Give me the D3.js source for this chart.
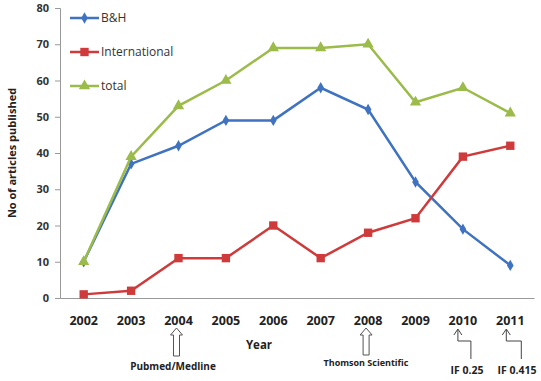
<!DOCTYPE html>
<html>
<head>
<meta charset="utf-8">
<script src="https://cdn.jsdelivr.net/npm/d3@7"></script>
<style>
body { margin: 0; background: #fff; }
text { font-family: "Open Sans", "DejaVu Sans", sans-serif; }
</style>
</head>
<body>
<svg id="chart" width="541" height="381"></svg>
<script>
var years = ["2002","2003","2004","2005","2006","2007","2008","2009","2010","2011"];
var bh = [10, 37, 42, 49, 49, 58, 52, 32, 19, 9];
var intl = [1, 2, 11, 11, 20, 11, 18, 22, 39, 42];
var total = [10, 39, 53, 60, 69, 69, 70, 54, 58, 51];
var yTicks = [0, 10, 20, 30, 40, 50, 60, 70, 80];

var series = [
    {name: "B&H", values: bh, color: "#3f72c0", symbol: d3.symbolDiamond, size: 38},
    {name: "International", values: intl, color: "#cf3a3a", symbol: d3.symbolSquare, size: 70},
    {name: "total", values: total, color: "#9bbb4a", symbol: d3.symbolTriangle, size: 55}
];

var svg = d3.select("#chart");

var x = d3.scaleBand().domain(years).range([60, 534]);
var y = d3.scaleLinear().domain([0, 80]).range([298, 8]);
var cx = function(i) { return x(years[i]) + x.bandwidth() / 2; };

// axes
var yAxis = svg.append("g")
    .attr("transform", "translate(60,0)")
    .call(d3.axisLeft(y).tickValues(yTicks).tickSize(5).tickPadding(6));
yAxis.select(".domain").attr("stroke", "#999");
yAxis.selectAll(".tick line").attr("stroke", "#999");
yAxis.selectAll("text").attr("fill", "#333").style("font-size", "11px").style("font-weight", "bold");

var xAxis = svg.append("g")
    .attr("transform", "translate(0,298)")
    .call(d3.axisBottom(x).tickSize(0).tickPadding(18));
xAxis.select(".domain").attr("stroke", "#999");
xAxis.selectAll("text").attr("fill", "#222").style("font-size", "12.5px").style("font-weight", "bold");

svg.append("text")
    .attr("x", 259).attr("y", 349)
    .attr("text-anchor", "middle")
    .attr("fill", "#222").style("font-size", "11.5px").style("font-weight", "bold")
    .text("Year");

svg.append("text")
    .attr("transform", "translate(16,153) rotate(-90)")
    .attr("text-anchor", "middle")
    .attr("fill", "#222").style("font-size", "11px").style("font-weight", "bold")
    .text("No of articles published");

// lines
var line = d3.line()
    .x(function(d, i) { return cx(i); })
    .y(function(d) { return y(d); });

series.forEach(function(s) {
    svg.append("path")
        .datum(s.values)
        .attr("d", line)
        .attr("fill", "none")
        .attr("stroke", s.color)
        .attr("stroke-width", 2.5);
    svg.selectAll(null)
        .data(s.values)
        .enter().append("path")
        .attr("d", d3.symbol().type(s.symbol).size(s.size))
        .attr("transform", function(d, i) { return "translate(" + cx(i) + "," + y(d) + ")"; })
        .attr("fill", s.color);
});

// legend
var legend = svg.append("g").attr("transform", "translate(70,18)");
series.forEach(function(s, i) {
    var g = legend.append("g").attr("transform", "translate(0," + (i * 34) + ")");
    g.append("line").attr("x1", 0).attr("x2", 29).attr("stroke", s.color).attr("stroke-width", 2.5);
    g.append("path").attr("d", d3.symbol().type(s.symbol).size(s.size))
        .attr("transform", "translate(14.5,0)").attr("fill", s.color);
    g.append("text").attr("x", 31).attr("y", 4)
        .attr("fill", "#333").style("font-size", "12px")
        .text(s.name);
});

// annotations: hollow up arrows
function hollowArrow(px, top, bottom) {
    var p = [[px, top], [px + 6, top + 7], [px + 3, top + 7], [px + 3, bottom],
             [px - 3, bottom], [px - 3, top + 7], [px - 6, top + 7]];
    svg.append("path")
        .attr("d", "M" + p.join("L") + "Z")
        .attr("fill", "#fff").attr("stroke", "#555").attr("stroke-width", 1);
}
hollowArrow(cx(2) - 2, 328, 356);
hollowArrow(cx(6) - 2, 328, 355);

svg.append("text").attr("x", 173).attr("y", 370).attr("text-anchor", "middle")
    .attr("fill", "#222").style("font-size", "10px").style("font-weight", "bold")
    .text("Pubmed/Medline");
svg.append("text").attr("x", 366).attr("y", 366).attr("text-anchor", "middle")
    .attr("fill", "#222").style("font-size", "9px").style("font-weight", "bold")
    .text("Thomson Scientific");

// bent arrows
function bentArrow(px, dx) {
    svg.append("path")
        .attr("d", "M" + px + ",330 L" + px + ",341 L" + (px + dx) + ",341 L" + (px + dx) + ",359")
        .attr("fill", "none").attr("stroke", "#444").attr("stroke-width", 1);
    svg.append("path")
        .attr("d", "M" + (px - 4) + ",335 L" + px + ",329 L" + (px + 4) + ",335")
        .attr("fill", "none").attr("stroke", "#444").attr("stroke-width", 1);
}
bentArrow(cx(8) - 5, 13);
bentArrow(cx(9) - 4, 15);

svg.append("text").attr("x", 467).attr("y", 374).attr("text-anchor", "middle")
    .attr("fill", "#222").style("font-size", "10.5px").style("font-weight", "bold")
    .text("IF 0.25");
svg.append("text").attr("x", 517).attr("y", 374).attr("text-anchor", "middle")
    .attr("fill", "#222").style("font-size", "10.5px").style("font-weight", "bold")
    .text("IF 0.415");
</script>
</body>
</html>
